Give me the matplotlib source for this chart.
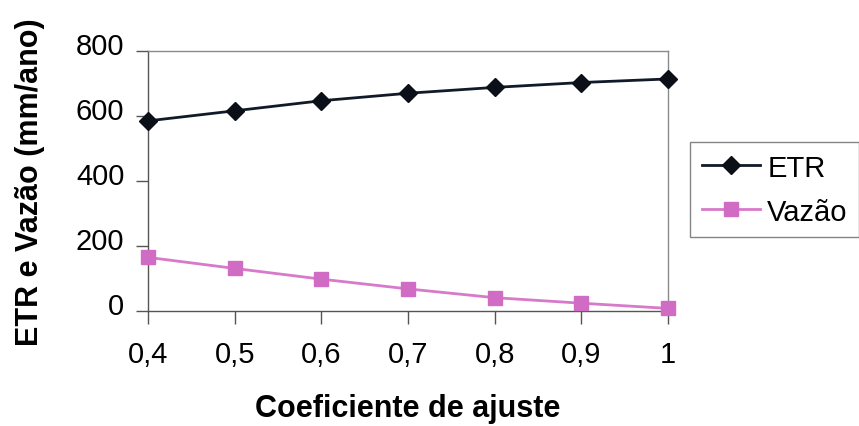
import matplotlib.pyplot as plt
from matplotlib.transforms import ScaledTranslation

plt.rcParams['font.family'] = ['Liberation Sans', 'DejaVu Sans']

coef = [0.4, 0.5, 0.6, 0.7, 0.8, 0.9, 1.0]
coef_labels = ['0,4', '0,5', '0,6', '0,7', '0,8', '0,9', '1']
etr = [585, 616, 647, 670, 688, 703, 714]
vazao = [165, 131, 98, 68, 41, 24, 8]

fig = plt.figure(figsize=(8.59, 4.27), dpi=100)
ax = fig.add_axes([148 / 859, 1 - 312 / 427, 520 / 859, 260 / 427])

ax.plot(coef, etr, color='#101a28', lw=2, marker='D', ms=9, mfc='#0a0f18', mec='#0a0f18',
        label='ETR', clip_on=False, zorder=3)
ax.plot(coef, vazao, color='#d77ac9', lw=2, marker='s', ms=10, mfc='#d06cc4', mec='#d06cc4',
        label='Vazão', clip_on=False, zorder=3)

ax.set_xlim(0.4, 1.0)
ax.set_ylim(0, 800)
ax.set_xticks(coef)
ax.set_xticklabels(coef_labels)
ax.set_yticks([0, 200, 400, 600, 800])
ax.tick_params(labelsize=21, length=9, width=1, direction='out', color='#555555', pad=8)
ax.tick_params(axis='x', pad=12)

# y tick labels sit a little above their ticks
shift = ScaledTranslation(0, 8 / 100, fig.dpi_scale_trans)
for lab in ax.get_yticklabels():
    lab.set_transform(lab.get_transform() + shift)

for side in ['top', 'right']:
    ax.spines[side].set_color('#8a8a8a')
for side in ['left', 'bottom']:
    ax.spines[side].set_color('#555555')
for s in ax.spines.values():
    s.set_linewidth(1)

ax.set_xlabel('Coeficiente de ajuste', fontsize=22, fontweight='bold', labelpad=18)
ax.set_ylabel('ETR e Vazão (mm/ano)', fontsize=22, fontweight='bold', labelpad=22)

leg = ax.legend(loc='upper left', bbox_to_anchor=(690 / 859, 1 - 143 / 427),
                bbox_transform=fig.transFigure, fontsize=21, frameon=True,
                fancybox=False, edgecolor='#666666', handlelength=2.0,
                handletextpad=0.25, borderpad=0.4, labelspacing=0.55,
                borderaxespad=0)
leg.get_frame().set_linewidth(1)

fig.savefig('out.png', dpi=100)
